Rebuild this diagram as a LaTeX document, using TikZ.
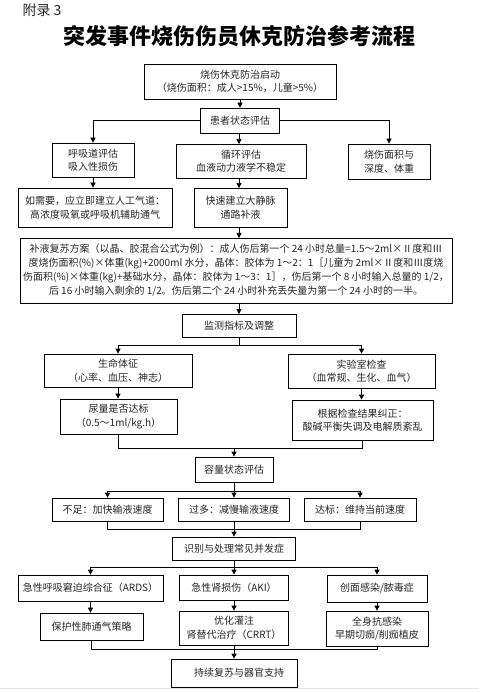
\documentclass[tikz,border=0pt]{standalone}
\usepackage{fontspec}
\setmainfont{Noto Sans CJK SC}
\usetikzlibrary{arrows.meta}
\tikzset{
  box/.style={draw=black, line width=0.7pt, inner sep=0pt, align=center, text=black!85,
    font=\fontsize{10}{13.5}\selectfont},
  conn/.style={line width=0.7pt, draw=black},
  arr/.style={conn, -{Triangle[length=5pt,width=5pt]}},
}
\newcommand\mybox[6]{\node[box,minimum width=#4pt,minimum height=#5pt] (#1) at (#2,#3) {#6};}
\begin{document}
\begin{tikzpicture}[x=1pt,y=-1pt]
\useasboundingbox (0,0) rectangle (479,692);
\node[font=\fontsize{14}{14}\selectfont, text=black!85] (appx) at (42,10) {附录 3};
\node[font=\fontsize{22}{22}\selectfont\bfseries] (title) at (239,36) {突发事件烧伤伤员休克防治参考流程};

\mybox{b1}{240}{81.5}{192}{35}{烧伤休克防治启动\\（烧伤面积：成人>15\%，儿童>5\%）}
\mybox{b2}{240}{120.5}{79}{25}{患者状态评估}
\mybox{b3}{93}{160}{82}{34}{呼吸道评估\\吸入性损伤}
\mybox{b4}{241}{161}{130}{34}{循环评估\\血液动力液学不稳定}
\mybox{b5}{389}{161.5}{82}{35}{烧伤面积与\\深度、体重}
\mybox{b6}{95}{207.5}{154}{39}{如需要，应立即建立人工气道：\\高浓度吸氧或呼吸机辅助通气}
\mybox{b7}{240.5}{207.5}{93}{39}{快速建立大静脉\\通路补液}
\node[box,minimum width=432pt,minimum height=65pt,font=\fontsize{10}{14}\selectfont] (b8) at (236,270.5)
 {补液复苏方案（以晶、胶混合公式为例）：成人伤后第一个 24 小时总量=1.5～2ml×Ⅱ度和Ⅲ\\
  度烧伤面积(\%)×体重(kg)+2000ml 水分，晶体：胶体为 1～2：1［儿童为 2ml×Ⅱ度和Ⅲ度烧\\
  伤面积(\%)×体重(kg)+基础水分，晶体：胶体为 1～3：1］，伤后第一个 8 小时输入总量的 1/2，\\
  后 16 小时输入剩余的 1/2。伤后第二个 24 小时补充丢失量为第一个 24 小时的一半。};
\mybox{b9}{239}{325.5}{114}{23}{监测指标及调整}
\mybox{b10}{118}{370.5}{148}{33}{生命体征\\（心率、血压、神志）}
\mybox{b11}{361.5}{371}{147}{34}{实验室检查\\（血常规、生化、血气）}
\mybox{b12}{118.5}{416.5}{117}{35}{尿量是否达标\\（0.5～1ml/kg.h）}
\mybox{b13}{362.5}{420}{141}{40}{根据检查结果纠正：\\酸碱平衡失调及电解质紊乱}
\mybox{b14}{234}{469.5}{78}{25}{容量状态评估}
\mybox{b15}{107.5}{509.5}{111}{23}{不足：加快输液速度}
\mybox{b16}{234}{509.5}{111}{23}{过多：减慢输液速度}
\mybox{b17}{360}{509.5}{112}{23}{达标：维持当前速度}
\mybox{b18}{234}{548.5}{123}{23}{识别与处理常见并发症}
\mybox{b19}{90.5}{588}{145}{26}{急性呼吸窘迫综合征（ARDS）}
\mybox{b20}{234}{587.5}{109}{25}{急性肾损伤（AKI）}
\mybox{b21}{377}{588.5}{100}{27}{创面感染/脓毒症}
\mybox{b22}{91.5}{626.5}{103}{27}{保护性肺通气策略}
\mybox{b23}{234}{628}{109}{34}{优化灌注\\肾替代治疗（CRRT）}
\mybox{b24}{377}{628.5}{102}{35}{全身抗感染\\早期切痂/削痂植皮}
\mybox{b25}{234}{673}{126}{28}{\hspace{10pt}持续复苏与器官支持}

\coordinate (j1) at (239,345);
\coordinate (j2) at (234,448);
\coordinate (j3) at (234,491);
\coordinate (j4) at (234,529);
\coordinate (j5) at (234,567);
\coordinate (j6) at (234,649);

\draw[arr] (b1.south) -- (b1.south |- b2.north);
\draw[arr] (b2.west) -| (b3.north);
\draw[arr] (b2.east) -| (b5.north);
\draw[arr] (239,133) -- (239,144);
\draw[arr] (b3.south) -- (b3.south |- b6.north);
\draw[arr] (239,178) -- (239,188);
\draw[arr] (239,227) -- (239,238);
\draw[arr] (239,303) -- (239,314);
\draw[conn] (b9.south) -- (j1);
\draw[arr] (j1) -| (b10.north);
\draw[arr] (j1) -| (b11.north);
\draw[arr] (b10.south) -- (b10.south |- b12.north);
\draw[arr] (b11.south) -- (b11.south |- b13.north);
\draw[conn] (b12.south) |- (j2);
\draw[conn] (b13.south) |- (j2);
\draw[arr] (j2) -- (b14.north);
\draw[conn] (b14.south) -- (j3);
\draw[arr] (j3) -| (b15.north);
\draw[arr] (j3) -| (b17.north);
\draw[arr] (j3) -- (b16.north);
\draw[conn] (b15.south) |- (j4);
\draw[conn] (b17.south) |- (j4);
\draw[conn] (b16.south) -- (j4);
\draw[arr] (j4) -- (b18.north);
\draw[conn] (b18.south) -- (j5);
\draw[arr] (j5) -| (b19.north);
\draw[arr] (j5) -| (b21.north);
\draw[arr] (j5) -- (b20.north);
\draw[arr] (b19.south) -- (b19.south |- b22.north);
\draw[arr] (b20.south) -- (b23.north);
\draw[arr] (b21.south) -- (b24.north);
\draw[conn] (b22.south) |- (j6);
\draw[conn] (b24.south) |- (j6);
\draw[conn] (b23.south) -- (j6);
\draw[arr] (j6) -- (b25.north);
\draw[black!10, line width=0.8pt] (0,688) -- (479,688);
\end{tikzpicture}
\end{document}
